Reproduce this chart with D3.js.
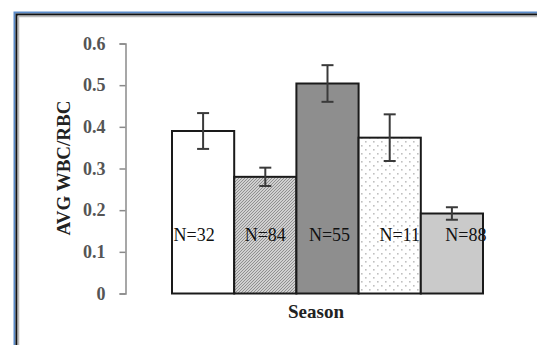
<!DOCTYPE html>
<html>
<head>
<meta charset="utf-8">
<script src="https://cdn.jsdelivr.net/npm/d3@7"></script>
<style>
  html, body { margin: 0; padding: 0; background: #fff; }
  svg { display: block; }
</style>
</head>
<body>
<svg id="chart" width="537" height="345"></svg>
<script>
// Average WBC/RBC ratio by season, with standard error bars and sample sizes
const categories = ["S1", "S2", "S3", "S4", "S5"];
const means = [0.390, 0.280, 0.504, 0.374, 0.192];
const errors = [0.043, 0.022, 0.044, 0.056, 0.015];
const sampleSizes = [32, 84, 55, 11, 88];
const yTicks = [0, 0.1, 0.2, 0.3, 0.4, 0.5, 0.6];

// Fill style per bar and horizontal nudge of each N label inside its bar
const fills = ["#ffffff", "url(#hatch)", "#8e8e8e", "url(#dots)", "#cacaca"];
const labelShift = [-9, 0, 2, 10, 14];

const svg = d3.select("#chart");

// Window frame: blue outer rule, dark inner rule, soft gray shadow
svg.append("rect").attr("x", 0).attr("y", 0).attr("width", 537).attr("height", 345).attr("fill", "#fff");
svg.append("path").attr("d", "M14.5,345 V12.5 H537").attr("fill", "none").attr("stroke", "#5b8bc9").attr("stroke-width", 2);
svg.append("path").attr("d", "M16.5,345 V14.5 H537").attr("fill", "none").attr("stroke", "#111").attr("stroke-width", 2);
svg.append("path").attr("d", "M18.5,345 V16.5 H537").attr("fill", "none").attr("stroke", "#bbb").attr("stroke-width", 1.5);

const defs = svg.append("defs");
const hatch = defs.append("pattern").attr("id", "hatch").attr("patternUnits", "userSpaceOnUse")
  .attr("width", 3).attr("height", 3);
hatch.append("rect").attr("width", 3).attr("height", 3).attr("fill", "#d0d0d0");
hatch.append("path").attr("d", "M-1,1 L1,-1 M0,3 L3,0 M2,4 L4,2").attr("stroke", "#808080").attr("stroke-width", 0.8);

const dots = defs.append("pattern").attr("id", "dots").attr("patternUnits", "userSpaceOnUse")
  .attr("width", 8).attr("height", 8);
dots.append("rect").attr("width", 8).attr("height", 8).attr("fill", "#fff");
dots.append("rect").attr("x", 1).attr("y", 1).attr("width", 1.6).attr("height", 1.6).attr("fill", "#c0c0c0");
dots.append("rect").attr("x", 5).attr("y", 5).attr("width", 1.6).attr("height", 1.6).attr("fill", "#c0c0c0");

const y = d3.scaleLinear().domain([0, 0.6]).range([293.5, 43.5]);
const x = d3.scaleBand().domain(categories).range([172, 483]).padding(0);

// Y axis
const axisG = svg.append("g").attr("transform", "translate(125.5,0)")
  .call(d3.axisLeft(y).tickValues(yTicks).tickSize(6).tickPadding(14)
    .tickFormat(d => d === 0 ? "0" : d3.format(".1f")(d)));
axisG.select(".domain").attr("stroke", "#8a8a8a").attr("stroke-width", 1.5);
axisG.selectAll(".tick line").attr("stroke", "#8a8a8a").attr("stroke-width", 1.5);
axisG.selectAll(".tick text")
  .attr("font-family", "'Liberation Serif', 'Times New Roman', serif")
  .attr("font-size", 18).attr("font-weight", "bold").attr("fill", "#555");

// Bars
svg.append("g").selectAll("rect").data(categories).join("rect")
  .attr("x", d => x(d))
  .attr("y", (d, i) => y(means[i]))
  .attr("width", x.bandwidth())
  .attr("height", (d, i) => y(0) - y(means[i]))
  .attr("fill", (d, i) => fills[i])
  .attr("stroke", "#1a1a1a").attr("stroke-width", 2);

// Error bars
const eg = svg.append("g").attr("stroke", "#3a3a3a").attr("stroke-width", 2);
categories.forEach((c, i) => {
  const cx = x(c) + x.bandwidth() / 2;
  const top = y(means[i] + errors[i]);
  const bot = y(means[i] - errors[i]);
  eg.append("line").attr("x1", cx).attr("x2", cx).attr("y1", top).attr("y2", bot);
  eg.append("line").attr("x1", cx - 6).attr("x2", cx + 6).attr("y1", top).attr("y2", top);
  eg.append("line").attr("x1", cx - 6).attr("x2", cx + 6).attr("y1", bot).attr("y2", bot);
});

// Sample size labels
svg.append("g").selectAll("text").data(categories).join("text")
  .attr("x", (d, i) => x(d) + x.bandwidth() / 2 + labelShift[i])
  .attr("y", 241)
  .attr("text-anchor", "middle")
  .attr("font-family", "'Liberation Serif', 'Times New Roman', serif")
  .attr("font-size", 18).attr("fill", "#111")
  .text((d, i) => "N=" + sampleSizes[i]);

// Axis titles
svg.append("text")
  .attr("x", 316).attr("y", 318)
  .attr("text-anchor", "middle")
  .attr("font-family", "'Liberation Serif', 'Times New Roman', serif")
  .attr("font-size", 19).attr("font-weight", "bold").attr("fill", "#222")
  .text("Season");

svg.append("text")
  .attr("transform", "translate(70,168) rotate(-90)")
  .attr("text-anchor", "middle")
  .attr("font-family", "'Liberation Serif', 'Times New Roman', serif")
  .attr("font-size", 19).attr("font-weight", "bold").attr("fill", "#222")
  .text("AVG WBC/RBC");
</script>
</body>
</html>
